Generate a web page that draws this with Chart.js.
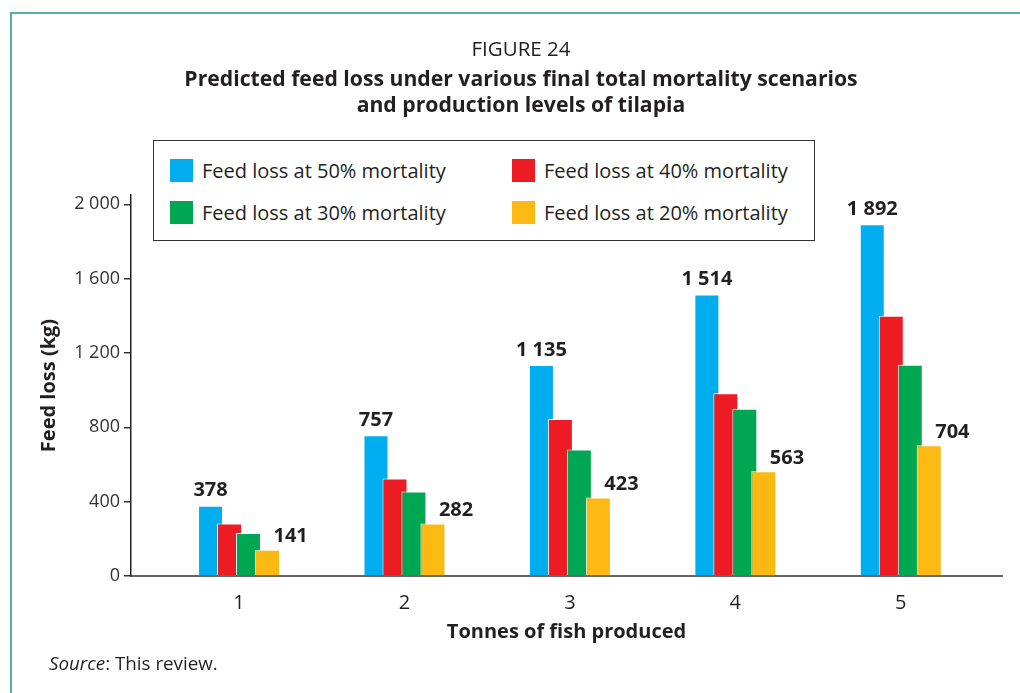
<!DOCTYPE html>
<html lang="en">
<head>
  <meta charset="UTF-8" />
  <title>Figure 24 - Predicted feed loss</title>
  <script src="https://cdn.jsdelivr.net/npm/chart.js"></script>
  <style>
    body {
      margin: 0;
      background: #ffffff;
      font-family: 'Open Sans', 'Noto Sans', sans-serif;
      color: #231f20;
    }

    .page {
      position: relative;
      width: 1020px;
      height: 693px;
      overflow: hidden;
    }

    .frame {
      position: absolute;
      left: 10px;
      top: 12px;
      width: 1010px;
      height: 690px;
      border-top: 2px solid #4fb3ac;
      border-left: 2px solid #4fb3ac;
      box-sizing: border-box;
    }

    canvas {
      position: absolute;
      left: 0;
      top: 0;
    }

    .heading {
      position: absolute;
      left: 0;
      width: 1042px;
      top: 35px;
      text-align: center;
    }

    .heading .fig {
      font-size: 20.5px;
      line-height: 27px;
    }

    .heading b {
      display: block;
      font-size: 21.2px;
      line-height: 26px;
    }

    .heading b.first {
      margin-top: 3px;
    }

    .legend {
      position: absolute;
      left: 153px;
      top: 140px;
      width: 662px;
      height: 101px;
      border: 1.5px solid #333;
      box-sizing: border-box;
      background: #fff;
      font-size: 20px;
    }

    .legend .item {
      position: absolute;
      display: flex;
      align-items: center;
      height: 24px;
    }

    .legend .sw {
      width: 23px;
      height: 23px;
      margin-right: 9px;
    }

    .source {
      position: absolute;
      left: 49px;
      top: 650px;
      font-size: 18.8px;
    }
  </style>
</head>
<body>
  <div class="page">
    <div class="frame"></div>
    <canvas id="chart" width="1020" height="693"></canvas>

    <div class="heading">
      <div class="fig">FIGURE 24</div>
      <b class="first">Predicted feed loss under various final total mortality scenarios</b>
      <b>and production levels of tilapia</b>
    </div>

    <div class="legend" id="legend"></div>

    <div class="source"><i>Source</i>: This review.</div>
  </div>

  <script>
    // data
    const tonnes = [1, 2, 3, 4, 5];
    const loss50 = [378, 757, 1135, 1514, 1892];
    const loss40 = [283, 525, 845, 983, 1400];
    const loss30 = [232, 455, 680, 900, 1137];
    const loss20 = [141, 282, 423, 563, 704];
    const yTicks = [0, 400, 800, 1200, 1600, 2000];

    const seriesNames = [
      'Feed loss at 50% mortality',
      'Feed loss at 40% mortality',
      'Feed loss at 30% mortality',
      'Feed loss at 20% mortality'
    ];
    const seriesColors = ['#00aeef', '#ed1c24', '#00a651', '#fdb913'];

    const fmt = v => String(v).replace(/\B(?=(\d{3})+(?!\d))/g, ' ');
    const FONT = "'Open Sans', 'Noto Sans', sans-serif";

    // legend, 2 x 2 in a box
    const legendPos = [[16, 17], [358, 17], [16, 59], [358, 59]];
    const legendEl = document.getElementById('legend');
    seriesNames.forEach((name, i) => {
      const it = document.createElement('div');
      it.className = 'item';
      it.style.left = legendPos[i][0] + 'px';
      it.style.top = legendPos[i][1] + 'px';
      it.innerHTML = '<span class="sw" style="background:' + seriesColors[i] + '"></span>' + name;
      legendEl.appendChild(it);
    });

    const toPoints = vals => tonnes.map((t, i) => ({ x: t, y: vals[i] }));

    // draw series left to right so each bar sits over the one before it,
    // then put value labels over the 50% and 20% bars
    const overlapPlugin = {
      id: 'overlap',
      beforeDatasetsDraw(chart) {
        for (let i = 0; i < chart.data.datasets.length; i++) {
          chart.getDatasetMeta(i).controller.draw();
        }
        return false;
      },
      afterDraw(chart) {
        const ctx = chart.ctx;
        ctx.save();
        ctx.font = 'bold 20px ' + FONT;
        ctx.fillStyle = '#231f20';
        ctx.textBaseline = 'bottom';
        chart.data.datasets.forEach((ds, di) => {
          if (!ds.labelSide) return;
          chart.getDatasetMeta(di).data.forEach((bar, j) => {
            const text = fmt(ds.data[j].y);
            if (ds.labelSide === 'top') {
              ctx.textAlign = 'center';
              ctx.fillText(text, bar.x, bar.y - 5);
            } else {
              ctx.textAlign = 'left';
              ctx.fillText(text, bar.x + 6, bar.y - 3);
            }
          });
        });
        ctx.restore();
      }
    };

    const allSeries = [loss50, loss40, loss30, loss20];

    new Chart(document.getElementById('chart'), {
      type: 'bar',
      data: {
        datasets: allSeries.map((vals, i) => ({
          label: seriesNames[i],
          data: toPoints(vals),
          backgroundColor: seriesColors[i],
          borderColor: '#ffffff',
          borderWidth: 1,
          categoryPercentage: 0.459,
          barPercentage: 1.316,
          labelSide: i === 0 ? 'top' : (i === 3 ? 'right' : null)
        }))
      },
      options: {
        responsive: false,
        animation: false,
        layout: { padding: { top: 195, right: 18, left: 0, bottom: 0 } },
        plugins: {
          legend: { display: false },
          tooltip: { enabled: false }
        },
        scales: {
          x: {
            type: 'linear',
            offset: false,
            min: 0.347,
            max: 5.612,
            afterFit(scale) { scale.height = 117; },
            afterBuildTicks(scale) {
              scale.ticks = tonnes.map(t => ({ value: t }));
            },
            ticks: {
              color: '#231f20',
              font: { family: FONT, size: 20 },
              padding: 15,
              callback: v => String(v)
            },
            grid: { display: false, drawTicks: false },
            border: { color: '#666666', width: 2 },
            title: {
              display: true,
              text: 'Tonnes of fish produced',
              color: '#231f20',
              font: { family: FONT, size: 20, weight: 'bold' },
              padding: { top: 0, bottom: 49 }
            }
          },
          y: {
            min: 0,
            max: 2050,
            afterFit(scale) { scale.width = 131; },
            afterBuildTicks(scale) {
              scale.ticks = yTicks.map(v => ({ value: v }));
            },
            ticks: {
              color: '#333333',
              font: { family: FONT, size: 18 },
              padding: 4,
              callback: v => fmt(v)
            },
            grid: {
              drawOnChartArea: false,
              drawTicks: true,
              tickLength: 7,
              color: '#333333',
              lineWidth: 1.5
            },
            border: { color: '#222222', width: 1.5 },
            title: {
              display: true,
              text: 'Feed loss (kg)',
              color: '#231f20',
              font: { family: FONT, size: 20, weight: 'bold' },
              padding: { top: 37, bottom: 0 }
            }
          }
        }
      },
      plugins: [overlapPlugin]
    });
  </script>
</body>
</html>
